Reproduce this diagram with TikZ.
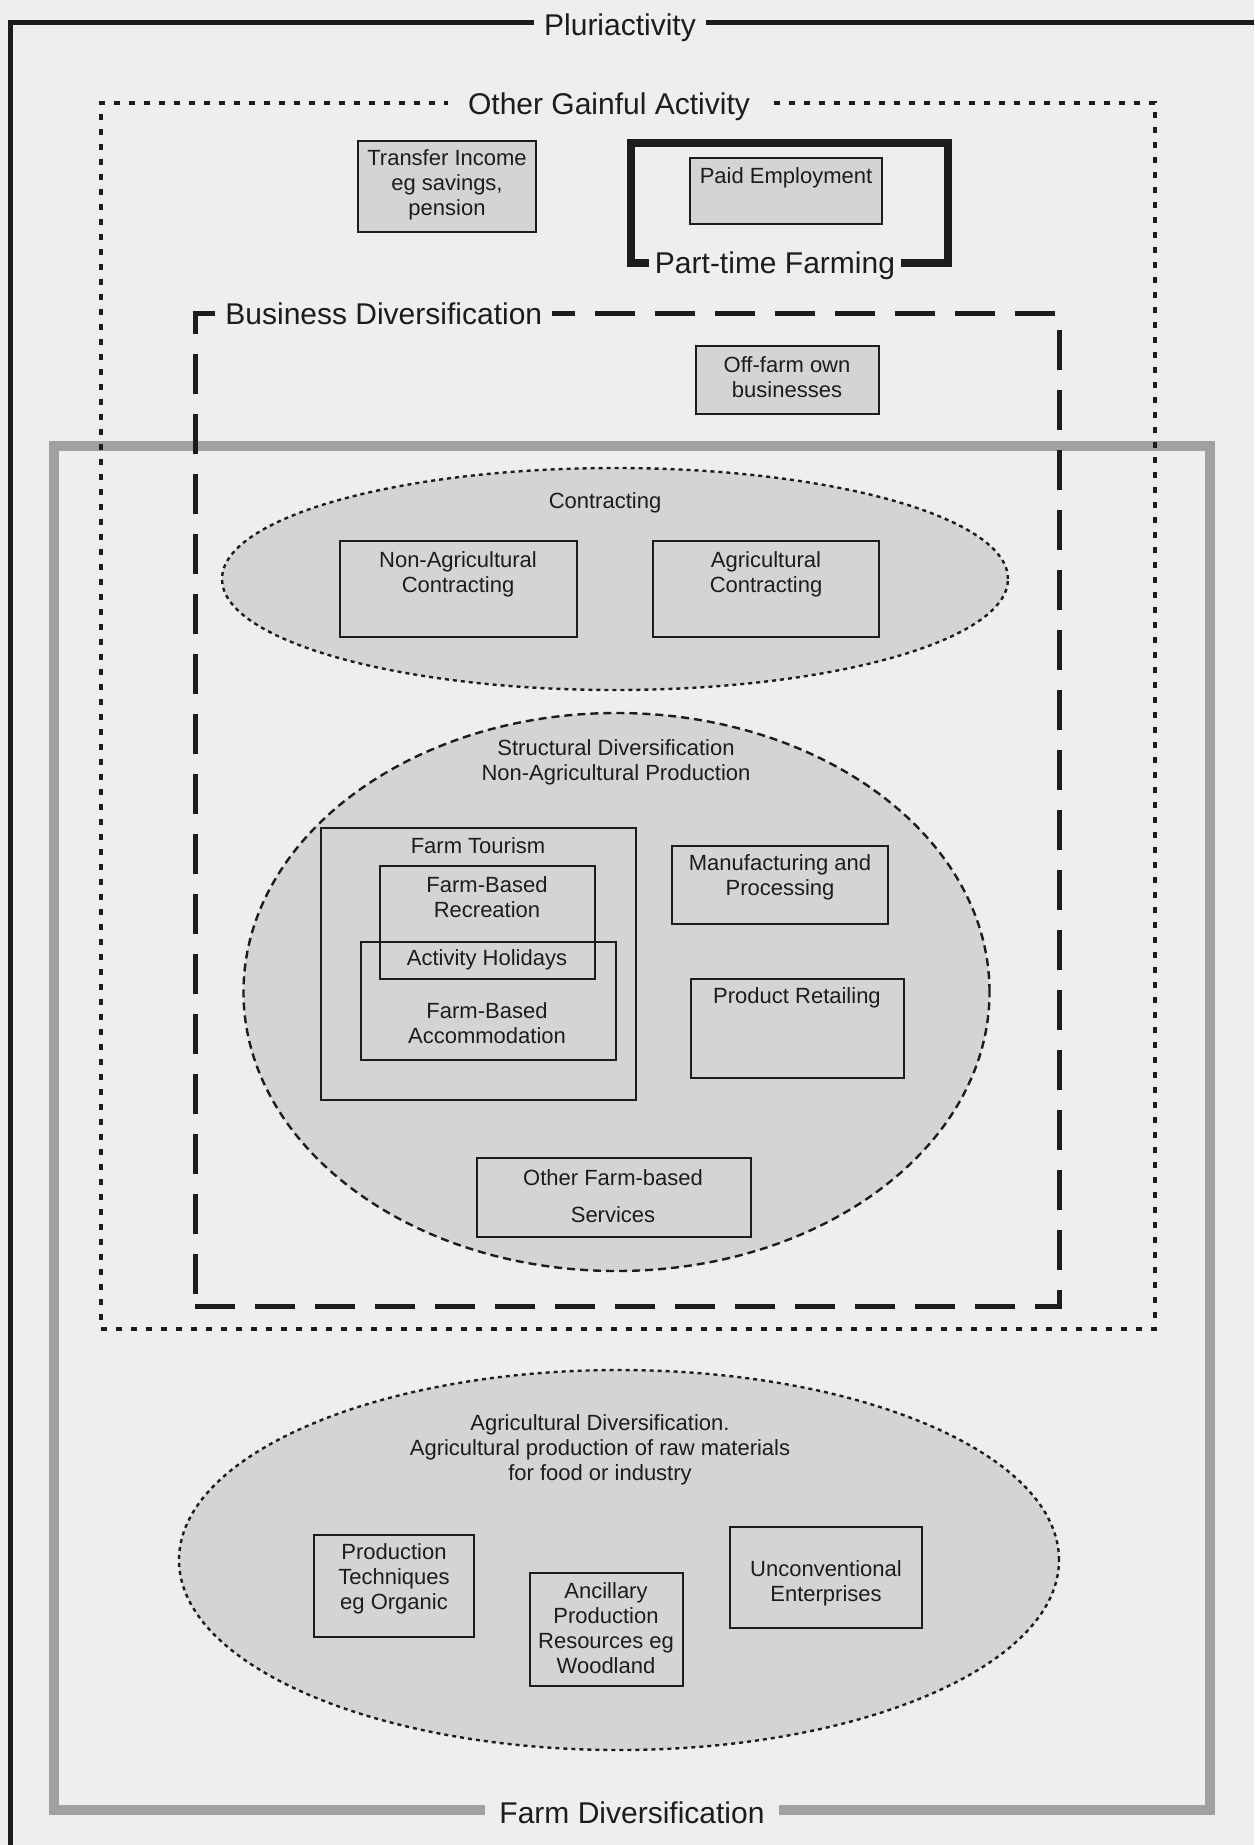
\documentclass[tikz,border=0pt]{standalone}
\usepackage{fontspec}
\setmainfont{Liberation Sans}
\usetikzlibrary{shapes.geometric,fit}
\definecolor{bg}{RGB}{238,238,238}
\definecolor{fillc}{RGB}{212,212,212}
\definecolor{framegray}{RGB}{160,160,160}
\definecolor{ink}{RGB}{28,28,28}
\begin{document}
\begin{tikzpicture}[x=0.5pt,y=-0.5pt,
  box/.style={draw=ink, line width=0.9pt, inner sep=0pt},
  gbox/.style={box, fill=fillc},
  txt/.style={font=\fontsize{11}{12.5}\selectfont, align=center, inner sep=0pt, text=ink},
  title/.style={font=\fontsize{15}{18}\selectfont, fill=bg, text=ink},
  ell/.style={ellipse, fill=fillc, draw=ink, inner sep=0pt},
]
\useasboundingbox (0,0) rectangle (1254,1845);
\fill[bg] (0,0) rectangle (1254,1845);

% Pluriactivity frame
\coordinate (pl-bl) at (10,1845);
\coordinate (pl-tl) at (10,23);
\coordinate (pl-tr) at (1254,23);
\draw[ink, line width=2.5pt] (pl-bl) -- (pl-tl) -- (pl-tr);
\node[title, inner xsep=5pt, inner ysep=2pt] (plur) at (620,28) {Pluriactivity};

% Farm Diversification frame
\node[draw=framegray, line width=5pt, fit={(54,446)(1210,1810)}, inner sep=0pt] (fd) {};
\node[title, inner xsep=7pt, inner ysep=2pt] (fdl) at (632,1813) {Farm Diversification};

% Other Gainful Activity
\node[draw=ink, line width=1.6pt, dash pattern=on 2.8pt off 4.7pt, fit={(101,103)(1155,1329)}, inner sep=0pt] (oga) {};
\node[title, inner xsep=10pt, inner ysep=2pt] (ogal) at (609,107) {Other Gainful Activity};

\node[gbox, fit={(358,141)(536,232)}] (ti) {};
\node[txt] (ti-t) at (447,185) {Transfer Income\\eg savings,\\pension};

% Part-time farming
\node[draw=ink, line width=4pt, fit={(631,143)(948,263)}, inner sep=0pt] (ptf) {};
\node[title, inner xsep=3pt, inner ysep=1pt] (ptfl) at (775,266) {Part-time Farming};
\node[gbox, fit={(690,158)(882,224)}] (pe) {};
\node[txt] (pe-t) at (786,178) {Paid Employment};

% Business Diversification
\node[draw=ink, line width=2.5pt, dash pattern=on 20pt off 10pt, fit={(195,314)(1059,1306)}, inner sep=0pt] (bd) {};
\node[title, anchor=west, inner xsep=5pt, inner ysep=2pt] (bdl) at (215,314) {Business Diversification};

\node[gbox, fit={(696,346)(879,414)}] (ofb) {};
\node[txt] (ofb-t) at (787,377) {Off-farm own\\businesses};

% Contracting
\node[ell, line width=1.2pt, dash pattern=on 2pt off 2pt, minimum width=393pt, minimum height=111pt] (con) at (615,579) {};
\node[txt] (con-t) at (605,503) {Contracting};
\node[box, fit={(340,541)(577,637)}] (nac) {};
\node[txt] (nac-t) at (458,574) {Non-Agricultural\\Contracting};
\node[box, fit={(653,541)(879,637)}] (ac) {};
\node[txt] (ac-t) at (766,574) {Agricultural\\Contracting};

% Structural diversification
\node[ell, line width=1.2pt, dash pattern=on 4pt off 2.5pt, minimum width=373pt, minimum height=279pt] (sd) at (616.5,992) {};
\node[txt] (sd-t) at (616,762) {Structural Diversification\\Non-Agricultural Production};

\node[box, fit={(321,828)(636,1100)}] (ft) {};
\node[txt] (ft-t) at (478,846) {Farm Tourism};
\node[box, fit={(380,866)(595,979)}] (fbr) {};
\node[txt] (fbr-t) at (487,897) {Farm-Based\\Recreation};
\node[box, fit={(361,942)(616,1060)}] (fba) {};
\node[txt] (ah-t) at (487,960) {Activity Holidays};
\node[txt] (fba-t) at (487,1023) {Farm-Based\\Accommodation};

\node[box, fit={(672,846)(888,924)}] (mp) {};
\node[txt] (mp-t) at (780,877) {Manufacturing and\\Processing};
\node[box, fit={(691,979)(904,1078)}] (pr) {};
\node[txt] (pr-t) at (797,998) {Product Retailing};

\node[box, fit={(477,1158)(751,1237)}] (ofs) {};
\node[txt] (ofs-t) at (613,1196) {Other Farm-based\\[6pt]Services};

% Agricultural diversification
\node[ell, line width=1.2pt, dash pattern=on 2pt off 2pt, minimum width=440pt, minimum height=190pt] (ad) at (619,1560) {};
\node[txt] (ad-t) at (600,1450) {Agricultural Diversification.\\Agricultural production of raw materials\\for food or industry};

\node[box, fit={(314,1535)(474,1637)}] (pt) {};
\node[txt] (pt-t) at (394,1579) {Production\\Techniques\\eg Organic};
\node[box, fit={(530,1573)(683,1686)}] (apr) {};
\node[txt] (apr-t) at (606,1628) {Ancillary\\Production\\Resources eg\\Woodland};
\node[box, fit={(730,1527)(922,1628)}] (ue) {};
\node[txt] (ue-t) at (826,1583) {Unconventional\\Enterprises};
\end{tikzpicture}
\end{document}
